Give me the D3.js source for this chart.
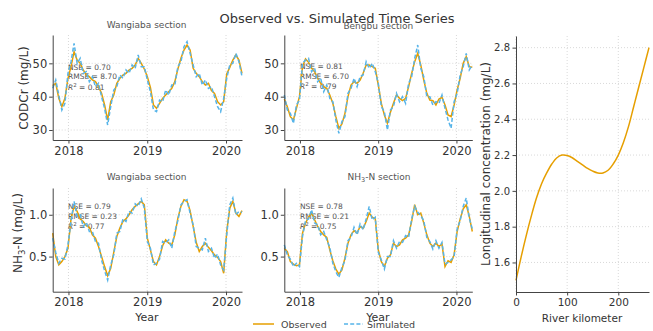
<!DOCTYPE html>
<html><head><meta charset="utf-8">
<script src="https://cdn.jsdelivr.net/npm/d3@7"></script>
<style>body{margin:0;background:#fff} svg{display:block;font-family:"DejaVu Sans",sans-serif}</style>
</head><body><svg id="c" width="653" height="331"></svg>
<script>
// ---------- DATA ----------
const startDate = "2017-10-20";
const endDate = "2020-03-15";
const yearTicks = [2018, 2019, 2020];
const codTicks = [30, 40, 50];
const nhTicks = [0.5, 1.0];
const kmTicks = [0, 100, 200];
const concTicks = [1.6, 1.8, 2.0, 2.2, 2.4, 2.6, 2.8];

const wangCodObs = [43.3,44.0,39.5,37.0,39.5,45.5,49.0,53.5,51.0,50.0,48.0,46.5,46.0,45.0,44.5,43.0,41.0,37.5,33.0,38.5,40.5,44.0,45.5,46.5,47.0,48.0,48.5,49.5,51.5,50.0,48.3,46.0,42.8,37.5,36.5,38.0,39.5,40.5,41.5,42.5,44.5,48.3,51.5,54.0,55.5,54.0,48.5,47.0,46.0,44.5,43.5,44.0,41.8,41.0,38.5,37.5,38.5,46.8,48.8,51.0,52.5,51.0,47.0];
const wangCodSim = [42.5,45.0,40.5,36.0,38.0,47.0,50.5,56.0,50.0,51.5,47.0,47.5,44.5,46.0,43.0,44.0,40.0,36.5,31.5,37.0,42.0,43.0,46.5,45.5,48.0,47.0,49.5,48.5,52.5,49.0,49.0,45.0,41.5,36.0,35.5,39.0,38.5,42.0,40.5,43.5,43.5,49.0,50.5,55.0,56.5,53.0,49.5,46.0,47.0,43.5,45.0,42.5,43.0,40.0,37.0,35.5,39.5,45.5,49.5,50.0,53.0,50.5,46.0];
const bengCodObs = [39.3,37.0,34.0,33.0,36.5,40.0,49.0,51.3,50.3,48.5,47.5,45.5,44.0,43.0,42.5,40.5,38.0,34.0,30.5,31.8,35.0,40.0,43.5,44.5,44.0,45.0,47.0,49.5,49.5,49.0,48.5,43.5,38.0,34.5,32.0,35.3,38.0,40.5,39.5,38.8,39.5,43.0,47.0,50.5,53.0,49.5,45.0,41.0,39.0,38.8,37.5,39.3,39.8,37.5,34.5,34.0,37.5,42.0,45.5,50.0,52.0,49.0,48.8];
const bengCodSim = [40.5,36.0,35.0,32.0,37.5,39.0,50.0,51.0,51.5,47.5,48.5,44.5,45.5,41.5,43.5,39.5,38.5,33.0,29.0,32.5,34.0,41.0,42.5,45.5,43.0,46.0,46.5,50.5,48.5,50.0,47.5,44.0,37.0,35.5,30.0,36.0,37.0,41.0,38.5,40.0,38.0,44.0,46.0,51.5,55.5,48.5,46.0,40.0,40.0,37.5,38.5,38.0,40.5,36.5,33.0,30.5,38.5,41.0,46.5,49.0,53.0,48.0,49.5];
const wangNhObs = [0.78,0.50,0.40,0.44,0.50,0.60,0.95,1.10,1.04,0.95,0.92,0.87,0.85,0.76,0.72,0.62,0.50,0.38,0.27,0.36,0.55,0.74,0.84,0.92,0.95,1.00,1.06,1.10,1.13,1.16,1.12,0.72,0.58,0.44,0.40,0.50,0.63,0.70,0.66,0.64,0.76,0.96,1.10,1.18,1.16,1.05,0.86,0.67,0.56,0.62,0.66,0.61,0.57,0.52,0.49,0.44,0.30,0.80,1.08,1.16,1.02,0.98,1.05];
const wangNhSim = [0.72,0.55,0.42,0.48,0.47,0.64,0.92,1.16,0.98,1.00,0.86,0.91,0.80,0.80,0.68,0.66,0.46,0.33,0.22,0.40,0.52,0.78,0.80,0.95,0.92,1.04,1.02,1.13,1.10,1.19,1.08,0.68,0.60,0.40,0.42,0.47,0.68,0.66,0.70,0.60,0.80,0.93,1.12,1.16,1.18,1.02,0.88,0.62,0.60,0.58,0.72,0.56,0.60,0.48,0.53,0.40,0.34,0.76,1.12,1.20,1.00,1.04,1.03];
const nhSecObs = [0.60,0.56,0.44,0.41,0.39,0.40,0.78,0.90,0.97,1.02,0.94,0.86,0.80,0.76,0.73,0.58,0.45,0.35,0.29,0.34,0.48,0.66,0.76,0.81,0.78,0.86,0.84,0.92,1.02,0.97,0.95,0.58,0.44,0.38,0.48,0.52,0.66,0.62,0.64,0.70,0.72,0.76,0.92,1.12,1.00,1.02,0.90,0.76,0.66,0.62,0.66,0.62,0.65,0.38,0.45,0.43,0.52,0.80,0.95,1.07,1.12,0.98,0.80];
const nhSecSim = [0.64,0.52,0.47,0.38,0.42,0.38,0.74,0.93,0.95,1.06,0.90,0.88,0.76,0.80,0.70,0.61,0.42,0.32,0.25,0.37,0.45,0.69,0.73,0.85,0.76,0.89,0.82,0.95,1.10,0.94,0.97,0.55,0.46,0.35,0.50,0.50,0.69,0.60,0.68,0.67,0.75,0.73,0.95,1.10,1.03,0.99,0.93,0.73,0.68,0.59,0.69,0.60,0.67,0.41,0.43,0.46,0.50,0.83,0.93,1.10,1.20,0.96,0.83];

const riverKm = [0,10,20,30,40,50,60,70,80,90,100,110,120,130,140,150,160,170,180,190,200,210,220,230,240,250,260];
const longConc = [1.50,1.63,1.75,1.86,1.96,2.04,2.10,2.15,2.185,2.20,2.198,2.185,2.165,2.145,2.125,2.11,2.10,2.10,2.115,2.15,2.20,2.27,2.36,2.47,2.58,2.69,2.80];

// ---------- STYLE ----------
const OBS = "#E69F00", SIM = "#56B4E9";
const svg = d3.select("#c");
const t0 = new Date(startDate + "T00:00:00"), t1 = new Date(endDate + "T00:00:00");

function grid(g, x, y, xt, yt, L, R, T, B) {
  g.selectAll(".gx").data(xt).join("line")
    .attr("x1", d => x(d)).attr("x2", d => x(d)).attr("y1", T).attr("y2", B)
    .attr("stroke", "#cfcfcf").attr("stroke-width", 0.8).attr("stroke-dasharray", "1,2");
  g.selectAll(".gy").data(yt).join("line")
    .attr("y1", d => y(d)).attr("y2", d => y(d)).attr("x1", L).attr("x2", R)
    .attr("stroke", "#cfcfcf").attr("stroke-width", 0.8).attr("stroke-dasharray", "1,2");
}
function styleAxis(a, fs) {
  a.select(".domain").attr("stroke", "#444").attr("stroke-width", 1);
  a.selectAll(".tick line").attr("stroke", "#444");
  a.selectAll(".tick text").attr("fill", "#333").attr("font-size", fs).attr("font-family", "DejaVu Sans");
}

const panels = [
  {L:52.7,R:242,T:35,B:140, obs:wangCodObs, sim:wangCodSim, ydom:[27,58.5], yt:codTicks, fmt:d3.format("d"),
   title:"Wangiaba section", tx:146.7, ty:28, stats:["NSE = 0.70","RMSE = 8.70","0.81"], ax:68, ay:69.5,
   ylabel:"CODCr (mg/L)", ylx:24, yly:88},
  {L:284.3,R:472.3,T:35,B:140, obs:bengCodObs, sim:bengCodSim, ydom:[27,58.5], yt:codTicks, fmt:d3.format("d"),
   title:"Bengbu section", tx:378.3, ty:29, stats:["NSE = 0.81","RMSE = 6.70","0.79"], ax:300, ay:69},
  {L:52.7,R:242,T:188,B:291.7, obs:wangNhObs, sim:wangNhSim, ydom:[0.08,1.32], yt:nhTicks, fmt:d3.format(".1f"),
   title:"Wangiaba section", tx:146.7, ty:180, stats:["NSE = 0.79","RMSE = 0.23","0.77"], ax:68, ay:209,
   ylabel:"NH3", ylx:18, yly:233, xlabel:true},
  {L:284.3,R:472.3,T:188,B:291.7, obs:nhSecObs, sim:nhSecSim, ydom:[0.08,1.32], yt:nhTicks, fmt:d3.format(".1f"),
   title:"NH3sec", tx:379, ty:180, stats:["NSE = 0.78","RMSE = 0.21","0.75"], ax:300, ay:209, xlabel:true}
];

const yearDates = yearTicks.map(y => new Date(y, 0, 1));

panels.forEach(p => {
  const n = p.obs.length;
  const dates = d3.range(n).map(i => new Date(+t0 + i * (t1 - t0) / (n - 1)));
  const x = d3.scaleTime().domain([t0, t1]).range([p.L, p.R]);
  const y = d3.scaleLinear().domain(p.ydom).range([p.B, p.T]);
  const g = svg.append("g");
  grid(g, x, y, yearDates, p.yt, p.L, p.R, p.T, p.B);

  // stats text (under lines)
  const st = g.append("text").attr("font-size", 7.5).attr("fill", "#555");
  st.append("tspan").attr("x", p.ax).attr("y", p.ay).text(p.stats[0]);
  st.append("tspan").attr("x", p.ax).attr("y", p.ay + 9.8).text(p.stats[1]);
  const r = st.append("tspan").attr("x", p.ax).attr("y", p.ay + 20);
  r.append("tspan").attr("font-style", "italic").text("R");
  r.append("tspan").attr("font-size", 5.5).attr("dy", -3).text("2");
  r.append("tspan").attr("dy", 3).text(" = " + p.stats[2]);

  const line = v => d3.line().x((d, i) => x(dates[i])).y(d => y(d))(v);
  g.append("path").attr("d", line(p.obs)).attr("fill", "none").attr("stroke", OBS).attr("stroke-width", 1.5);
  g.append("path").attr("d", line(p.sim)).attr("fill", "none").attr("stroke", SIM).attr("stroke-width", 1.5).attr("stroke-dasharray", "4,2.2");

  const ax = g.append("g").attr("transform", `translate(0,${p.B})`)
    .call(d3.axisBottom(x).tickValues(yearDates).tickFormat(d3.timeFormat("%Y")).tickSize(3.5).tickSizeOuter(0).tickPadding(3));
  styleAxis(ax, 11.5);
  const ay = g.append("g").attr("transform", `translate(${p.L},0)`)
    .call(d3.axisLeft(y).tickValues(p.yt).tickFormat(p.fmt).tickSize(3.5).tickSizeOuter(0).tickPadding(2));
  styleAxis(ay, 11.5);

  // title
  const tt = g.append("text").attr("x", p.tx).attr("y", p.ty).attr("text-anchor", "middle")
    .attr("font-size", 9).attr("fill", "#555");
  if (p.title === "NH3sec") {
    tt.append("tspan").text("NH");
    tt.append("tspan").attr("font-size", 6.5).attr("dy", 2).text("3");
    tt.append("tspan").attr("dy", -2).text("-N section");
  } else tt.text(p.title);

  if (p.ylabel) {
    const yl = g.append("text").attr("transform", `translate(${p.ylx},${p.yly}) rotate(-90)`)
      .attr("text-anchor", "middle").attr("dy", "0.35em").attr("font-size", 12).attr("fill", "#333");
    if (p.ylabel === "NH3") {
      yl.append("tspan").text("NH");
      yl.append("tspan").attr("font-size", 8.5).attr("dy", 3).text("3");
      yl.append("tspan").attr("dy", -3).text("-N (mg/L)");
    } else yl.text(p.ylabel);
  }
  if (p.xlabel) {
    g.append("text").attr("x", (p.L + p.R) / 2 - 0.5).attr("y", 321).attr("text-anchor", "middle")
      .attr("font-size", 11).attr("fill", "#333").text("Year");
  }
});

// ---------- right panel ----------
{
  const L = 516, R = 649, T = 36, B = 292;
  const x = d3.scaleLinear().domain([0, 260]).range([L, R]);
  const y = d3.scaleLinear().domain([1.435, 2.865]).range([B, T]);
  const g = svg.append("g");
  grid(g, x, y, kmTicks, concTicks, L, R, T, B);
  g.append("path").datum(riverKm.map((k, i) => [k, longConc[i]]))
    .attr("d", d3.line().x(d => x(d[0])).y(d => y(d[1])).curve(d3.curveCatmullRom))
    .attr("fill", "none").attr("stroke", OBS).attr("stroke-width", 1.5);
  const ax = g.append("g").attr("transform", `translate(0,${B})`)
    .call(d3.axisBottom(x).tickValues(kmTicks).tickFormat(d3.format("d")).tickSize(3.5).tickSizeOuter(0).tickPadding(3));
  styleAxis(ax, 10.5);
  const ay = g.append("g").attr("transform", `translate(${L},0)`)
    .call(d3.axisLeft(y).tickValues(concTicks).tickFormat(d3.format(".1f")).tickSize(3.5).tickSizeOuter(0).tickPadding(2.5));
  styleAxis(ay, 10);
  g.append("text").attr("transform", `translate(486,164) rotate(-90)`).attr("text-anchor", "middle")
    .attr("dy", "0.35em").attr("font-size", 12).attr("fill", "#333").text("Longitudinal concentration (mg/L)");
  g.append("text").attr("x", 582).attr("y", 322).attr("text-anchor", "middle")
    .attr("font-size", 10.5).attr("fill", "#333").text("River kilometer");
}

// ---------- title & legend ----------
svg.append("text").attr("x", 337).attr("y", 23).attr("text-anchor", "middle")
  .attr("font-size", 13).attr("fill", "#333").text("Observed vs. Simulated Time Series");

const leg = svg.append("g");
leg.append("line").attr("x1", 253).attr("x2", 274).attr("y1", 324).attr("y2", 324).attr("stroke", OBS).attr("stroke-width", 1.5);
leg.append("text").attr("x", 281).attr("y", 327.5).attr("font-size", 9.5).attr("fill", "#444").text("Observed");
leg.append("line").attr("x1", 344).attr("x2", 363).attr("y1", 324).attr("y2", 324).attr("stroke", SIM).attr("stroke-width", 1.5).attr("stroke-dasharray", "4,2.2");
leg.append("text").attr("x", 367).attr("y", 327.5).attr("font-size", 9.5).attr("fill", "#444").text("Simulated");
</script></body></html>
